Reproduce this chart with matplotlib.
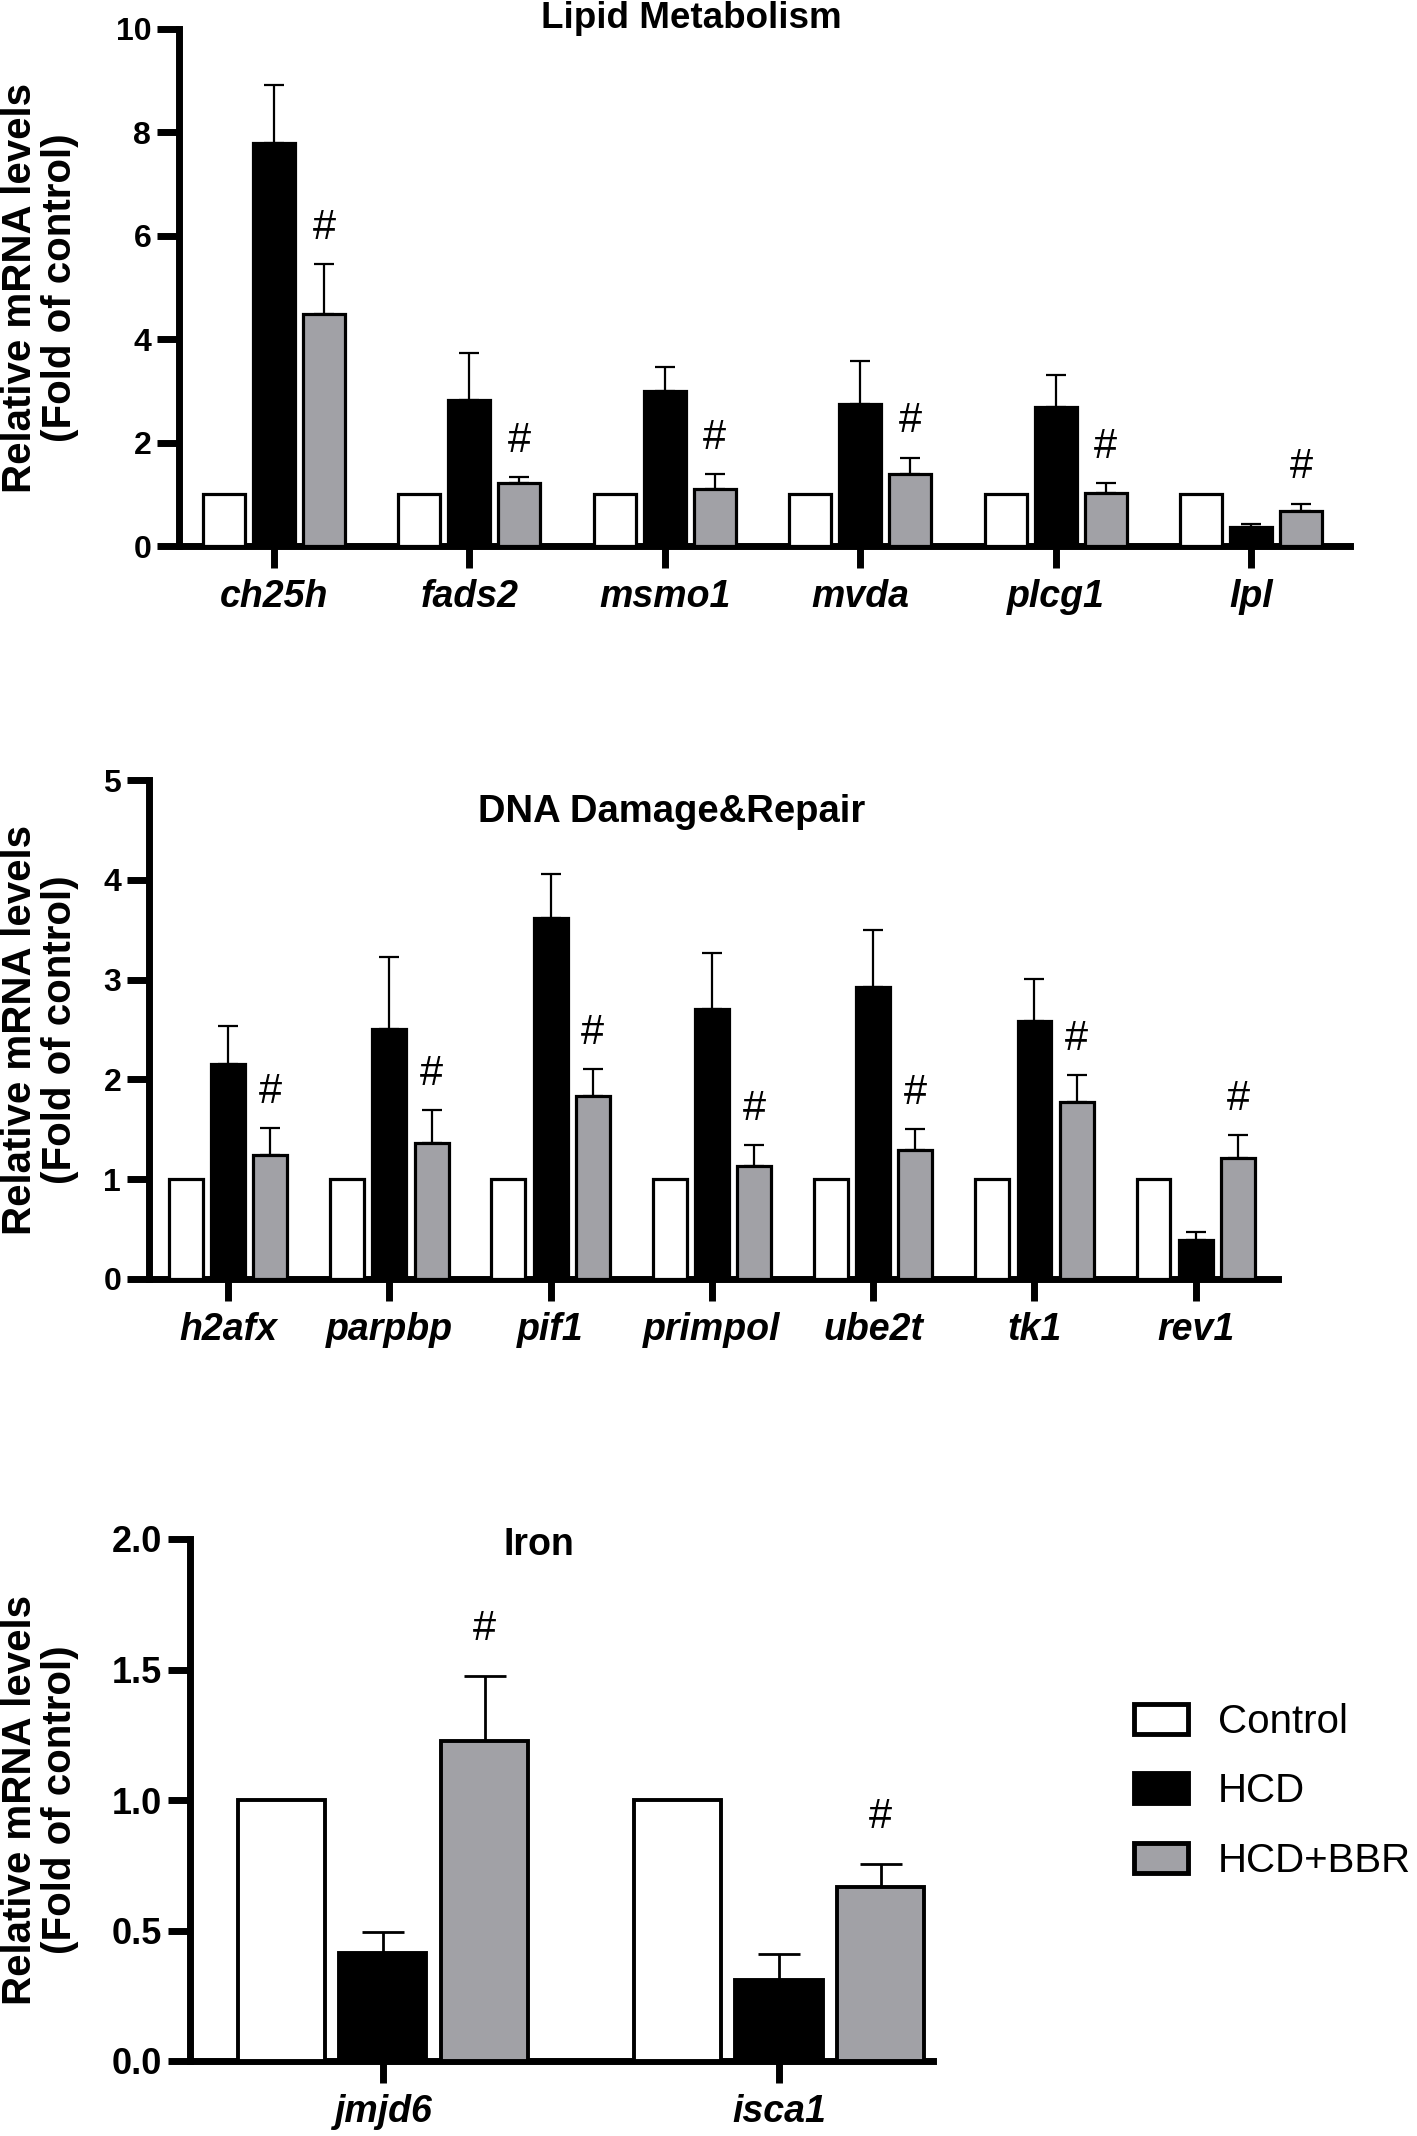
import matplotlib
matplotlib.use('Agg')
import matplotlib.pyplot as plt
from matplotlib.patches import Patch
from matplotlib.ticker import FormatStrFormatter
import numpy as np

plt.rcParams['font.family'] = ['Liberation Sans', 'DejaVu Sans']

# ---------------- data ----------------
groups = ['Control', 'HCD', 'HCD+BBR']
group_colors = ['#ffffff', '#000000', '#a1a1a6']

lipid_title = 'Lipid Metabolism'
lipid_genes = ['ch25h', 'fads2', 'msmo1', 'mvda', 'plcg1', 'lpl']
lipid_control = [1, 1, 1, 1, 1, 1]
lipid_hcd = [7.80, 2.83, 3.00, 2.74, 2.68, 0.37]
lipid_hcd_err = [1.12, 0.90, 0.47, 0.84, 0.63, 0.05]
lipid_bbr = [4.49, 1.21, 1.10, 1.40, 1.03, 0.68]
lipid_bbr_err = [0.97, 0.13, 0.29, 0.31, 0.18, 0.14]
lipid_yticks = [0, 2, 4, 6, 8, 10]

dna_title = 'DNA Damage&Repair'
dna_genes = ['h2afx', 'parpbp', 'pif1', 'primpol', 'ube2t', 'tk1', 'rev1']
dna_control = [1, 1, 1, 1, 1, 1, 1]
dna_hcd = [2.15, 2.51, 3.62, 2.71, 2.93, 2.59, 0.39]
dna_hcd_err = [0.39, 0.72, 0.44, 0.56, 0.57, 0.42, 0.08]
dna_bbr = [1.24, 1.36, 1.83, 1.13, 1.29, 1.77, 1.21]
dna_bbr_err = [0.27, 0.33, 0.27, 0.21, 0.21, 0.27, 0.23]
dna_yticks = [0, 1, 2, 3, 4, 5]

iron_title = 'Iron'
iron_genes = ['jmjd6', 'isca1']
iron_control = [1, 1]
iron_hcd = [0.415, 0.31]
iron_hcd_err = [0.08, 0.10]
iron_bbr = [1.225, 0.665]
iron_bbr_err = [0.25, 0.09]
iron_yticks = [0.0, 0.5, 1.0, 1.5, 2.0]

ylabel_text = 'Relative mRNA levels\n(Fold of control)'

# ---------------- figure ----------------
W, H = 1417, 2136
fig = plt.figure(figsize=(W / 100, H / 100), dpi=100)


def frac_rect(left, right, top, bottom):
    return [left / W, 1 - bottom / H, (right - left) / W, (bottom - top) / H]


def draw_panel(rect, xlim, genes, ctrl, hcd, hcd_err, bbr, bbr_err, yticks,
               off, width, edge_lw, hash_offset, ytick_fs, capsize, elw,
               yfmt=None):
    ax = fig.add_axes(rect)
    x = np.arange(len(genes))
    vals = [ctrl, hcd, bbr]
    for i, (v, c) in enumerate(zip(vals, group_colors)):
        ax.bar(x + (i - 1) * off, v, width, color=c, edgecolor='black',
               linewidth=edge_lw, zorder=3)
    zeros = np.zeros(len(genes))
    ax.errorbar(x, hcd, yerr=[zeros, hcd_err], fmt='none', ecolor='black',
                elinewidth=elw, capsize=capsize, capthick=elw, zorder=2)
    ax.errorbar(x + off, bbr, yerr=[zeros, bbr_err], fmt='none', ecolor='black',
                elinewidth=elw, capsize=capsize, capthick=elw, zorder=2)
    for xi, top in zip(x + off, np.array(bbr) + np.array(bbr_err)):
        ax.annotate('#', (xi, top), xytext=(0, hash_offset),
                    textcoords='offset points', ha='center', va='center',
                    fontsize=30)
    ax.set_xlim(*xlim)
    ax.set_ylim(yticks[0], yticks[-1])
    ax.set_yticks(yticks)
    if yfmt:
        ax.yaxis.set_major_formatter(FormatStrFormatter(yfmt))
    ax.set_xticks(x)
    ax.set_xticklabels(genes, fontsize=27, fontweight='bold', fontstyle='italic')
    for lab in ax.get_yticklabels():
        lab.set_fontweight('bold')
        lab.set_fontsize(ytick_fs)
    ax.spines['top'].set_visible(False)
    ax.spines['right'].set_visible(False)
    for s in ('left', 'bottom'):
        ax.spines[s].set_linewidth(5)
    ax.tick_params(axis='both', width=5, length=16, direction='out')
    ax.tick_params(axis='x', pad=8)
    ax.tick_params(axis='y', pad=4)
    return ax


ax1 = draw_panel(frac_rect(179, 1350, 29, 546), (-0.486, 5.507),
                 lipid_genes, lipid_control, lipid_hcd, lipid_hcd_err,
                 lipid_bbr, lipid_bbr_err, lipid_yticks,
                 off=0.256, width=0.215, edge_lw=2.3, hash_offset=26,
                 ytick_fs=23, capsize=7.5, elw=1.6)
ax2 = draw_panel(frac_rect(149, 1278, 780, 1279), (-0.49, 6.51),
                 dna_genes, dna_control, dna_hcd, dna_hcd_err,
                 dna_bbr, dna_bbr_err, dna_yticks,
                 off=0.262, width=0.21, edge_lw=2.3, hash_offset=26,
                 ytick_fs=23, capsize=7.5, elw=1.6)
ax3 = draw_panel(frac_rect(190, 933, 1539, 2061), (-0.487, 1.389),
                 iron_genes, iron_control, iron_hcd, iron_hcd_err,
                 iron_bbr, iron_bbr_err, iron_yticks,
                 off=0.257, width=0.22, edge_lw=2.8, hash_offset=34,
                 ytick_fs=26, capsize=15, elw=2.0, yfmt='%.1f')

# titles
fig.text(691 / W, 1 - 19 / H, lipid_title, ha='center', va='center',
         fontsize=26.5, fontweight='bold')
fig.text(672 / W, 1 - 812 / H, dna_title, ha='center', va='center',
         fontsize=27.5, fontweight='bold')
fig.text(539 / W, 1 - 1545 / H, iron_title, ha='center', va='center',
         fontsize=27, fontweight='bold')

# y labels
for yc in (288, 1030, 1800):
    fig.text(40 / W, 1 - yc / H, ylabel_text, rotation=90, ha='center',
             va='center', multialignment='center', fontsize=29,
             fontweight='bold', linespacing=1.05)

# legend
handles = [Patch(facecolor=c, edgecolor='black', linewidth=3.5) for c in group_colors]
fig.legend(handles, groups, loc='upper left', bbox_to_anchor=(1134 / W, 1 - 1703 / H),
           frameon=False, fontsize=29, handlelength=1.34, handleheight=0.77,
           handletextpad=0.75, labelspacing=0.78, borderpad=0, borderaxespad=0)

fig.savefig('out.png', dpi=100)
